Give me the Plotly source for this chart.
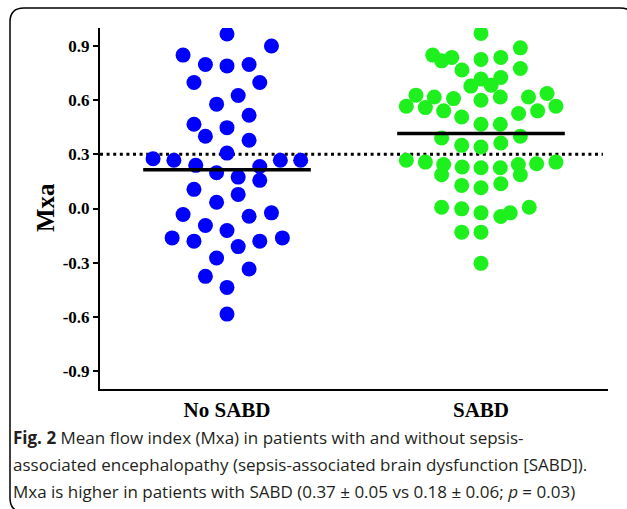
import plotly.graph_objects as go

# ---------------- data ----------------
categories = ["No SABD", "SABD"]

no_sabd_values = [0.967, 0.90, 0.85, 0.798, 0.79, 0.798, 0.698, 0.698, 0.626, 0.578,
                  0.517, 0.467, 0.448, 0.40, 0.378, 0.307, 0.276, 0.267, 0.267, 0.267,
                  0.239, 0.233, 0.198, 0.174, 0.156, 0.106, 0.078, 0.035, -0.033, -0.043,
                  -0.024, -0.094, -0.122, -0.163, -0.181, -0.211, -0.181, -0.163, -0.274,
                  -0.335, -0.376, -0.437, -0.585]
no_sabd_jitter = [0.0, 0.175, -0.173, -0.085, 0.0, 0.087, -0.13, 0.129, 0.044, -0.041,
                  0.087, -0.13, 0.0, -0.085, 0.087, 0.0, -0.291, -0.209, 0.21, 0.29,
                  -0.123, 0.129, -0.041, 0.044, 0.129, -0.13, 0.044, -0.041, -0.173, 0.087,
                  0.175, -0.085, 0.0, -0.216, -0.13, 0.044, 0.129, 0.218, -0.041,
                  0.087, -0.085, 0.0, 0.0]

sabd_values = [0.97, 0.89, 0.85, 0.818, 0.837, 0.826, 0.837, 0.767, 0.776, 0.717,
               0.726, 0.678, 0.683, 0.628, 0.618, 0.609, 0.618, 0.637, 0.567, 0.559,
               0.541, 0.60, 0.618, 0.541, 0.567, 0.507, 0.526, 0.467, 0.467, 0.391,
               0.40, 0.35, 0.341, 0.363, 0.267, 0.257, 0.244, 0.187, 0.23, 0.226,
               0.226, 0.244, 0.187, 0.248, 0.257, 0.128, 0.115, 0.137, 0.007, -0.002,
               -0.024, -0.044, -0.024, 0.007, -0.131, -0.131, -0.304]
sabd_jitter = [0.0, 0.155, -0.19, -0.155, -0.115, 0.0, 0.078, -0.075, 0.155, 0.0,
               0.078, -0.04, 0.04, -0.256, -0.184, -0.108, 0.187, 0.26, -0.294, -0.219,
               -0.147, 0.0, 0.076, 0.223, 0.295, -0.076, 0.148, 0.0, 0.076, -0.155,
               0.155, -0.076, 0.0, 0.078, -0.294, -0.219, -0.147, -0.155, -0.074, 0.0,
               0.076, 0.147, 0.155, 0.219, 0.295, -0.076, 0.0, 0.078, -0.155, -0.076,
               0.0, 0.078, 0.115, 0.19, -0.076, 0.0, 0.0]

group_means = [0.215, 0.415]
threshold = 0.3

y_tick_values = [0.9, 0.6, 0.3, 0.0, -0.3, -0.6, -0.9]
y_tick_labels = ["0.9", "0.6", "0.3", "0.0", "-0.3", "-0.6", "-0.9"]

caption_lines = [
    "<b>Fig. 2</b> Mean flow index (Mxa) in patients with and without sepsis-",
    "associated encephalopathy (sepsis-associated brain dysfunction [SABD]).",
    "Mxa is higher in patients with SABD (0.37 ± 0.05 vs 0.18 ± 0.06; <i>p</i> = 0.03)",
]

# ---------------- layout geometry ----------------
W_PX, H_PX = 627, 509
L, R, T, B = 100, 608, 28, 389


def px_x(p):
    return (p - L) / (R - L)


def px_y(p):
    return (B - p) / (B - T)


SERIF = "Liberation Serif, Times New Roman, serif"
SANS = "Open Sans, Noto Sans, sans-serif"

fig = go.Figure()

# dotted reference line (behind the dots)
fig.add_trace(go.Scatter(
    x=[-0.5, 1.48], y=[threshold, threshold], mode="lines",
    line=dict(color="black", width=3, dash="3px,3.6px"),
    hoverinfo="skip", showlegend=False))

colors = ["#0000ff", "#1ef01e"]
for i, (vals, jit) in enumerate([(no_sabd_values, no_sabd_jitter), (sabd_values, sabd_jitter)]):
    fig.add_trace(go.Scatter(
        x=[i + j for j in jit], y=vals, mode="markers",
        marker=dict(size=15, color=colors[i], line=dict(width=0)),
        name=categories[i], showlegend=False))

# mean lines (on top)
for i, m in enumerate(group_means):
    fig.add_trace(go.Scatter(
        x=[i - 0.33, i + 0.33], y=[m, m], mode="lines",
        line=dict(color="black", width=3.5),
        hoverinfo="skip", showlegend=False))

annotations = [
    dict(text="<b>Mxa</b>", x=px_x(45), y=px_y(208), xref="paper", yref="paper",
         textangle=-90, showarrow=False, font=dict(family=SERIF, size=25, color="black"),
         xanchor="center", yanchor="middle"),
]
for k, line in enumerate(caption_lines):
    annotations.append(dict(
        text=line, x=px_x(11), y=px_y(437 + 27 * k), xref="paper", yref="paper",
        showarrow=False, xanchor="left", yanchor="middle", align="left",
        font=dict(family=SANS, size=17, color="#231f20")))

# rounded frame (right and bottom edges run off the picture)
fx0, fx1, fy0, fy1, rad = 10, 634, 8, 512, 14
def P(x, y):
    return f"{px_x(x)} {px_y(y)}"
frame_path = (f"M {P(fx0 + rad, fy0)} L {P(fx1 - rad, fy0)} Q {P(fx1, fy0)} {P(fx1, fy0 + rad)} "
              f"L {P(fx1, fy1 - rad)} Q {P(fx1, fy1)} {P(fx1 - rad, fy1)} "
              f"L {P(fx0 + rad, fy1)} Q {P(fx0, fy1)} {P(fx0, fy1 - rad)} "
              f"L {P(fx0, fy0 + rad)} Q {P(fx0, fy0)} {P(fx0 + rad, fy0)} Z")

fig.update_layout(
    width=W_PX, height=H_PX,
    margin=dict(l=L, r=W_PX - R, t=T, b=H_PX - B, pad=0),
    paper_bgcolor="white", plot_bgcolor="white",
    showlegend=False,
    annotations=annotations,
    shapes=[dict(type="path", path=frame_path, xref="paper", yref="paper",
                 line=dict(color="black", width=1.5), layer="above")],
    xaxis=dict(range=[-0.5, 1.5], tickvals=[0, 1], ticktext=categories,
               showgrid=False, zeroline=False, showline=True, linecolor="black",
               linewidth=2, ticks="", ticklabelstandoff=1,
               tickfont=dict(family=SERIF, size=21, color="black", weight="bold")),
    yaxis=dict(range=[-1, 1], tickvals=y_tick_values, ticktext=y_tick_labels,
               showgrid=False, zeroline=False, showline=True, linecolor="black",
               linewidth=2, ticks="outside", ticklen=5, tickwidth=2, tickcolor="black",
               tickfont=dict(family=SERIF, size=17, color="black", weight="bold")),
)

fig.write_html("out.html", config={"displayModeBar": False},
               post_script="document.body.style.margin='0';document.body.style.overflow='hidden';")
